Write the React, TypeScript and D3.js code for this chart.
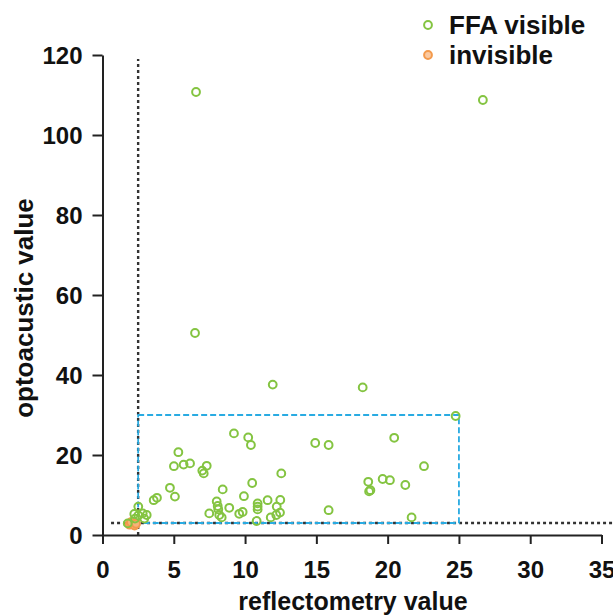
import React, { useRef, useEffect } from "react";
import * as d3 from "d3";

// reflectometry value (x) / optoacustic value (y)
const visibleX = [
  6.56, 26.68, 6.49, 11.94, 18.25, 24.77, 9.22, 10.22, 10.41, 14.92, 15.86, 20.46,
  5.32, 5.01, 5.69, 6.14, 7.31, 7.0, 7.1, 12.54, 22.55, 10.5, 8.43, 4.73, 5.08, 9.92,
  8.01, 8.08, 8.12, 7.49, 8.19, 8.36, 8.89, 9.59, 9.83, 10.88, 10.88, 10.88, 11.58,
  12.47, 12.22, 12.45, 12.19, 11.8, 10.81, 3.59, 3.82, 18.64, 19.65, 20.16, 21.24,
  18.79, 18.7, 15.86, 21.68, 2.51, 2.23, 2.51, 2.82, 3.1, 2.93, 2.28, 1.77,
];
const visibleY = [
  110.75, 108.75, 50.5, 37.6, 36.9, 29.75, 25.4, 24.4, 22.5, 23.0, 22.5, 24.3,
  20.7, 17.2, 17.6, 17.9, 17.3, 16.1, 15.4, 15.4, 17.2, 13.0, 11.4, 11.8, 9.6, 9.7,
  8.4, 7.25, 6.4, 5.4, 5.0, 4.4, 6.8, 5.3, 5.75, 7.9, 7.1, 6.4, 8.7,
  8.75, 7.1, 5.6, 5.0, 4.4, 3.5, 8.7, 9.3, 13.3, 14.0, 13.7, 12.5,
  11.2, 10.9, 6.2, 4.4, 7.1, 5.25, 4.9, 5.4, 5.0, 4.1, 4.1, 2.9,
];
const invisibleX = [1.9, 2.1, 2.25, 2.0, 2.35];
const invisibleY = [2.6, 2.9, 2.4, 3.2, 2.8];

const xTicks = [0, 5, 10, 15, 20, 25, 30, 35];
const yTicks = [0, 20, 40, 60, 80, 100, 120];
const xCut = 2.5;
const yCut = 3;
const boxX = [2.5, 25];
const boxY = [3, 30];

const GREEN = "#84c441";
const ORANGE = "#f39a4c";
const BLUE = "#29abe2";
const FONT = "'Liberation Sans', Arial, sans-serif";

const Chart = () => {
  const svgRef = useRef<SVGSVGElement>(null);
  const width = 613;
  const height = 616;

  const x = d3.scaleLinear().domain([0, 35]).range([102.5, 601.5]);
  const y = d3.scaleLinear().domain([0, 120]).range([535, 55]);

  useEffect(() => {
    const svg = d3.select(svgRef.current);

    const xAxis = svg.select<SVGGElement>(".x-axis");
    xAxis
      .attr("transform", `translate(0,${y(0)})`)
      .call(d3.axisBottom(x).tickValues(xTicks).tickSize(9).tickSizeOuter(0));
    xAxis.select(".domain").attr("stroke", "#222").attr("stroke-width", 2);
    xAxis.selectAll(".tick line").attr("stroke", "#222").attr("stroke-width", 2);
    xAxis
      .selectAll(".tick text")
      .attr("dy", "0")
      .attr("y", 43)
      .attr("font-family", FONT)
      .attr("font-weight", "bold")
      .attr("font-size", 24)
      .attr("fill", "#111");

    const yAxis = svg.select<SVGGElement>(".y-axis");
    yAxis
      .attr("transform", `translate(${x(0)},0)`)
      .call(d3.axisLeft(y).tickValues(yTicks).tickSize(10).tickSizeOuter(0));
    yAxis.select(".domain").attr("stroke", "#222").attr("stroke-width", 2);
    yAxis.selectAll(".tick line").attr("stroke", "#222").attr("stroke-width", 2);
    yAxis
      .selectAll(".tick text")
      .attr("x", -20)
      .attr("dy", "0.36em")
      .attr("font-family", FONT)
      .attr("font-weight", "bold")
      .attr("font-size", 24)
      .attr("fill", "#111");
  }, []);

  const visible = visibleX.map((v, i) => ({ x: v, y: visibleY[i] }));
  const invisible = invisibleX.map((v, i) => ({ x: v, y: invisibleY[i] }));

  return (
    <svg
      ref={svgRef}
      width={width}
      height={height}
      style={{ position: "absolute", left: 0, top: 0, background: "#fff" }}
    >
      {/* threshold lines */}
      <line
        x1={x(xCut)}
        x2={x(xCut)}
        y1={y(0)}
        y2={y(119)}
        stroke="#333"
        strokeWidth={2.4}
        strokeDasharray="3,3"
      />
      <line
        x1={x(0.6)}
        x2={width}
        y1={y(yCut)}
        y2={y(yCut)}
        stroke="#333"
        strokeWidth={2.4}
        strokeDasharray="3,3"
      />
      <rect
        x={x(boxX[0])}
        y={y(boxY[1])}
        width={x(boxX[1]) - x(boxX[0])}
        height={y(boxY[0]) - y(boxY[1])}
        fill="none"
        stroke={BLUE}
        strokeWidth={1.8}
        strokeDasharray="6,3"
      />

      <g className="x-axis" />
      <g className="y-axis" />

      {invisible.map((d, i) => (
        <circle
          key={"o" + i}
          cx={x(d.x)}
          cy={y(d.y)}
          r={4}
          fill="#f7b27a"
          stroke={ORANGE}
          strokeWidth={2}
        />
      ))}
      {visible.map((d, i) => (
        <circle
          key={"g" + i}
          cx={x(d.x)}
          cy={y(d.y)}
          r={3.9}
          fill="none"
          stroke={GREEN}
          strokeWidth={2}
        />
      ))}

      {/* legend */}
      <circle cx={428} cy={25} r={3.9} fill="#fff" stroke={GREEN} strokeWidth={2} />
      <text x={449} y={34} fontFamily={FONT} fontWeight="bold" fontSize={26} fill="#111">
        FFA visible
      </text>
      <circle cx={428} cy={55} r={3.9} fill="#fbc9a0" stroke={ORANGE} strokeWidth={2} />
      <text x={449} y={64} fontFamily={FONT} fontWeight="bold" fontSize={26} fill="#111">
        invisible
      </text>

      {/* axis titles */}
      <text
        x={353}
        y={610}
        textAnchor="middle"
        fontFamily={FONT}
        fontWeight="bold"
        fontSize={25}
        fill="#111"
      >
        reflectometry value
      </text>
      <text
        transform="translate(33,308) rotate(-90)"
        textAnchor="middle"
        fontFamily={FONT}
        fontWeight="bold"
        fontSize={26}
        fill="#111"
      >
        optoacustic value
      </text>
    </svg>
  );
};

export default function App() {
  return <Chart />;
}
